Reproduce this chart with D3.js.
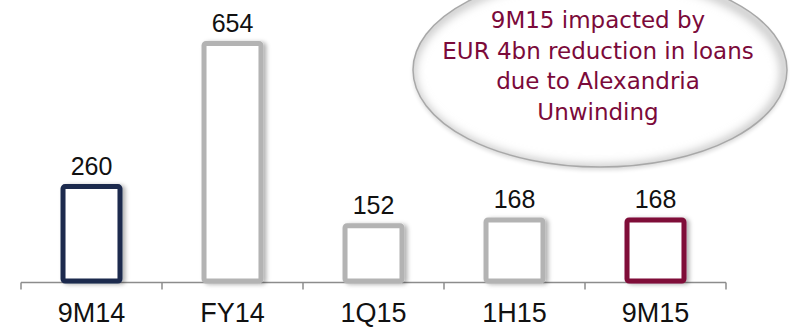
<!DOCTYPE html>
<html>
<head>
<meta charset="utf-8">
<script src="https://cdn.jsdelivr.net/npm/d3@7"></script>
<style>
  body { margin: 0; background: #fff; }
  svg { display: block; }
</style>
</head>
<body>
<div id="chart"></div>
<script>
// values
const categories = ['9M14', 'FY14', '1Q15', '1H15', '9M15']
const values = [260, 654, 152, 168, 168]
const barColors = ['#1b2a4e', '#b3b3b3', '#b3b3b3', '#b3b3b3', '#7f0a38']
const noteLines = ['9M15 impacted by', 'EUR 4bn reduction in loans', 'due to Alexandria', 'Unwinding']

const width = 790
const height = 327

const svg = d3.select('#chart')
    .append('svg')
    .attr('width', width)
    .attr('height', height)

const defs = svg.append('defs')

const shadow = defs.append('filter')
    .attr('id', 'barShadow')
    .attr('x', '-20%').attr('y', '-20%')
    .attr('width', '150%').attr('height', '140%')
shadow.append('feDropShadow')
    .attr('dx', 3).attr('dy', 1)
    .attr('stdDeviation', 2)
    .attr('flood-color', '#000')
    .attr('flood-opacity', 0.3)

// bubble rim: a soft grey band just inside the outline, heavier on the lower left
const bx = 600, by = 70, brx = 187, bry = 97
const rim = defs.append('filter').attr('id', 'rimBlur')
rim.append('feGaussianBlur').attr('stdDeviation', 5)
defs.append('clipPath').attr('id', 'bubbleClip')
    .append('ellipse')
    .attr('cx', bx).attr('cy', by)
    .attr('rx', brx).attr('ry', bry)

const x = d3.scaleBand()
    .domain(categories)
    .range([21, 726])
    .padding(0)

const y = d3.scaleLinear()
    .domain([0, 654])
    .range([281, 43.5])

const barW = x.bandwidth() * 0.404

// callout bubble
const bubble = svg.append('g')
bubble.append('ellipse')
    .attr('cx', bx).attr('cy', by + 3)
    .attr('rx', brx).attr('ry', bry)
    .attr('fill', '#000')
    .attr('opacity', 0.15)
    .attr('filter', 'blur(2px)')
bubble.append('ellipse')
    .attr('cx', bx).attr('cy', by)
    .attr('rx', brx).attr('ry', bry)
    .attr('fill', '#fff')
bubble.append('g')
    .attr('clip-path', 'url(#bubbleClip)')
    .append('ellipse')
    .attr('cx', bx - 2).attr('cy', by + 2)
    .attr('rx', brx).attr('ry', bry)
    .attr('fill', 'none')
    .attr('stroke', '#c4c4c4')
    .attr('stroke-width', 9)
    .attr('filter', 'url(#rimBlur)')
bubble.append('ellipse')
    .attr('cx', bx).attr('cy', by)
    .attr('rx', brx).attr('ry', bry)
    .attr('fill', 'none')
    .attr('stroke', '#a8a8a8')
    .attr('stroke-width', 1.5)

bubble.selectAll('.note')
    .data(noteLines)
    .enter().append('text')
    .attr('class', 'note')
    .attr('x', 598)
    .attr('y', (d, i) => 28 + i * 30.7)
    .attr('text-anchor', 'middle')
    .attr('font-family', 'Verdana, "DejaVu Sans", sans-serif')
    .attr('font-size', '23px')
    .attr('fill', '#7b0a3a')
    .text(d => d)

// axis: a plain baseline with a tick at every category boundary
const axis = svg.append('g')
    .attr('transform', 'translate(0,282.5)')
    .call(d3.axisBottom(x).tickSize(0).tickFormat(''))
axis.select('.domain').remove()
axis.append('line')
    .attr('x1', x.range()[0]).attr('x2', x.range()[1])
    .attr('stroke', '#8c8c8c').attr('stroke-width', 1.5)
const tickXs = categories.map(c => x(c)).concat([x.range()[1]])
axis.selectAll('.tk')
    .data(tickXs)
    .enter().append('line')
    .attr('class', 'tk')
    .attr('x1', d => d).attr('x2', d => d)
    .attr('y1', 0).attr('y2', 7)
    .attr('stroke', '#8c8c8c').attr('stroke-width', 1.5)

svg.selectAll('.cat')
    .data(categories)
    .enter().append('text')
    .attr('class', 'cat')
    .attr('x', d => x(d) + x.bandwidth() / 2)
    .attr('y', 322)
    .attr('text-anchor', 'middle')
    .attr('font-family', 'Arial, "Liberation Sans", sans-serif')
    .attr('font-size', '27px')
    .attr('fill', '#111')
    .text(d => d)

// bars
svg.selectAll('.bar')
    .data(values)
    .enter().append('rect')
    .attr('class', 'bar')
    .attr('x', (d, i) => x(categories[i]) + (x.bandwidth() - barW) / 2)
    .attr('y', d => y(d))
    .attr('width', barW)
    .attr('height', d => y(0) - y(d))
    .attr('rx', 2)
    .attr('fill', '#fff')
    .attr('stroke', (d, i) => barColors[i])
    .attr('stroke-width', 5)
    .attr('filter', 'url(#barShadow)')

svg.selectAll('.val')
    .data(values)
    .enter().append('text')
    .attr('class', 'val')
    .attr('x', (d, i) => x(categories[i]) + x.bandwidth() / 2)
    .attr('y', d => y(d) - 12)
    .attr('text-anchor', 'middle')
    .attr('font-family', 'Arial, "Liberation Sans", sans-serif')
    .attr('font-size', '25px')
    .attr('fill', '#111')
    .text(d => d)
</script>
</body>
</html>
